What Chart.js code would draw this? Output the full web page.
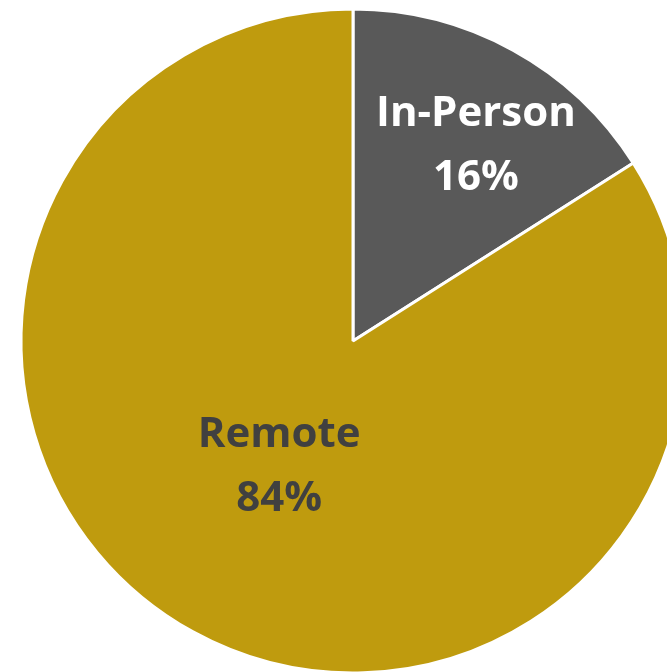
<!DOCTYPE html>
<html>
<head>
<meta charset="utf-8">
<script src="https://cdn.jsdelivr.net/npm/chart.js@4.4.0/dist/chart.umd.min.js"></script>
<style>
  html, body { margin: 0; padding: 0; background: #fff; overflow: hidden; }
  body { width: 667px; height: 672px; position: relative; }
  #wrap { position: absolute; left: 0; top: 0; width: 706px; height: 682px; }
</style>
</head>
<body>
<div id="wrap"><canvas id="pie"></canvas></div>
<script>
const categories = ['In-Person', 'Remote'];
const shares = [16, 84];
const sliceColors = ['#595959', '#BF9B0E'];
const labelColors = ['#FFFFFF', '#404040'];

// where each label block sits, as a fraction of the radius, plus a small nudge
const labelRadius = [0.70, 0.43];
const labelNudgeX = [11, -5];
const labelNudgeY = [9, 1];

const sliceLabels = {
    id: 'sliceLabels',
    afterDatasetsDraw(chart) {
        const ctx = chart.ctx;
        const meta = chart.getDatasetMeta(0);
        ctx.save();
        ctx.font = 'bold 42px "Open Sans"';
        ctx.textAlign = 'center';
        ctx.textBaseline = 'middle';
        meta.data.forEach((arc, i) => {
            const mid = (arc.startAngle + arc.endAngle) / 2;
            const r = arc.outerRadius * labelRadius[i];
            const x = arc.x + Math.cos(mid) * r + labelNudgeX[i];
            const y = arc.y + Math.sin(mid) * r + labelNudgeY[i];
            ctx.fillStyle = labelColors[i];
            ctx.fillText(categories[i], x, y - 32);
            ctx.fillText(shares[i] + '%', x, y + 32);
        });
        ctx.restore();
    }
};

new Chart(document.getElementById('pie').getContext('2d'), {
    type: 'pie',
    data: {
        labels: categories,
        datasets: [{
            data: shares,
            backgroundColor: sliceColors,
            borderColor: '#FFFFFF',
            borderWidth: 3
        }]
    },
    options: {
        responsive: true,
        maintainAspectRatio: false,
        animation: false,
        radius: 332,
        plugins: {
            legend: { display: false },
            tooltip: { enabled: false }
        }
    },
    plugins: [sliceLabels]
});
</script>
</body>
</html>
